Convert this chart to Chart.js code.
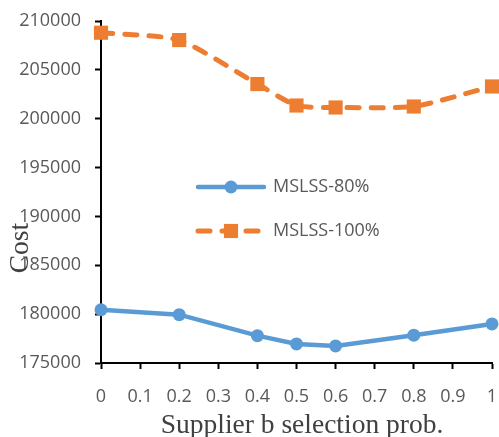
<!DOCTYPE html>
<html>
<head>
<meta charset="utf-8">
<script src="https://cdn.jsdelivr.net/npm/chart.js@4/dist/chart.umd.min.js"></script>
<style>
  html, body { margin: 0; padding: 0; background: #fff; }
  #wrap { width: 499px; height: 437px; }
</style>
</head>
<body>
<div id="wrap"><canvas id="costChart"></canvas></div>
<script>
// values
const selectionProb = [0, 0.2, 0.4, 0.5, 0.6, 0.8, 1]
const cost80 = [180450, 179950, 177800, 176950, 176750, 177850, 179000]
const cost100 = [208800, 208050, 203550, 201350, 201150, 201250, 203300]
const seriesNames = ['MSLSS-80%', 'MSLSS-100%']
const xTickValues = [0, 0.1, 0.2, 0.3, 0.4, 0.5, 0.6, 0.7, 0.8, 0.9, 1]
const yTickValues = [175000, 180000, 185000, 190000, 195000, 200000, 205000, 210000]
const xTitle = 'Supplier b selection prob.'
const yTitle = 'Cost'

const BLUE = '#5B9BD5'
const ORANGE = '#ED7D31'
const TICK_FONT = { family: '"Open Sans"', size: 18 }

// legend sits inside the plot, like the Excel original
const insideLegend = {
    id: 'insideLegend',
    afterDraw(chart) {
        const ctx = chart.ctx
        const rows = [{ y: 187 }, { y: 231 }]
        chart.data.datasets.forEach((ds, i) => {
            const y = rows[i].y
            ctx.save()
            ctx.strokeStyle = ds.borderColor
            ctx.lineWidth = ds.borderWidth
            ctx.lineCap = 'round'
            ctx.setLineDash(ds.borderDash || [])
            ctx.beginPath()
            ctx.moveTo(198, y)
            ctx.lineTo(264, y)
            ctx.stroke()
            ctx.setLineDash([])
            ctx.fillStyle = ds.pointBackgroundColor
            if (ds.pointStyle === 'rect') {
                const s = ds.pointRadius * Math.SQRT1_2
                ctx.fillRect(231 - s, y - s, 2 * s, 2 * s)
            } else {
                ctx.beginPath()
                ctx.arc(231, y, ds.pointRadius, 0, Math.PI * 2)
                ctx.fill()
            }
            ctx.fillStyle = '#595959'
            ctx.font = '18px "Open Sans"'
            ctx.textBaseline = 'middle'
            ctx.textAlign = 'left'
            ctx.fillText(ds.label, 273, y)
            ctx.restore()
        })
    }
}

// axis titles: serif, and the y title overlaps the tick labels as in the reference
const axisTitles = {
    id: 'axisTitles',
    afterDraw(chart) {
        const ctx = chart.ctx
        ctx.save()
        ctx.fillStyle = '#404040'
        ctx.font = '27.5px "Liberation Serif"'
        ctx.textAlign = 'center'
        ctx.textBaseline = 'alphabetic'
        ctx.fillText(xTitle, 302, 433)
        ctx.translate(28, 248)
        ctx.rotate(-Math.PI / 2)
        ctx.fillText(yTitle, 0, 0)
        ctx.restore()
    }
}

const ctx = document.getElementById('costChart').getContext('2d')
new Chart(ctx, {
    type: 'line',
    data: {
        datasets: [
            {
                label: seriesNames[0],
                data: selectionProb.map((p, i) => ({ x: p, y: cost80[i] })),
                borderColor: BLUE,
                backgroundColor: BLUE,
                pointBackgroundColor: BLUE,
                pointBorderWidth: 0,
                borderWidth: 4.5,
                pointStyle: 'circle',
                pointRadius: 6.5,
                tension: 0,
                clip: false,
            },
            {
                label: seriesNames[1],
                data: selectionProb.map((p, i) => ({ x: p, y: cost100[i] })),
                borderColor: ORANGE,
                backgroundColor: ORANGE,
                pointBackgroundColor: ORANGE,
                pointBorderWidth: 0,
                borderWidth: 5,
                borderDash: [12, 12],
                borderCapStyle: 'round',
                pointStyle: 'rect',
                pointRadius: 10,
                tension: 0.2,
                clip: false,
            }
        ]
    },
    options: {
        responsive: true,
        maintainAspectRatio: false,
        animation: false,
        layout: { autoPadding: false, padding: { top: 21, right: 7, left: 0, bottom: 0 } },
        plugins: {
            legend: { display: false },
            tooltip: { enabled: false },
        },
        scales: {
            x: {
                type: 'linear',
                min: 0,
                max: 1,
                afterFit: scale => {
                    scale.height = 74
                    scale.paddingLeft = 0
                    scale.paddingRight = 0
                },
                afterBuildTicks: scale => { scale.ticks = xTickValues.map(v => ({ value: v })) },
                border: { color: '#000', width: 2 },
                grid: { drawOnChartArea: false, drawTicks: true, tickLength: 6, color: '#000', tickWidth: 2 },
                ticks: {
                    color: '#595959',
                    font: TICK_FONT,
                    padding: 17,
                    maxRotation: 0,
                    autoSkip: false,
                    callback: v => String(+v.toFixed(1)),
                },
            },
            y: {
                type: 'linear',
                min: 175000,
                max: 210000,
                afterFit: scale => {
                    scale.width = 101
                    scale.paddingTop = 0
                    scale.paddingBottom = 0
                },
                afterBuildTicks: scale => { scale.ticks = yTickValues.map(v => ({ value: v })) },
                border: { color: '#000', width: 2 },
                grid: { drawOnChartArea: false, drawTicks: true, tickLength: 6, color: '#000', tickWidth: 2 },
                ticks: {
                    color: '#595959',
                    font: TICK_FONT,
                    padding: 14,
                    autoSkip: false,
                    callback: v => String(v),
                },
            },
        },
    },
    plugins: [insideLegend, axisTitles],
})
</script>
</body>
</html>
